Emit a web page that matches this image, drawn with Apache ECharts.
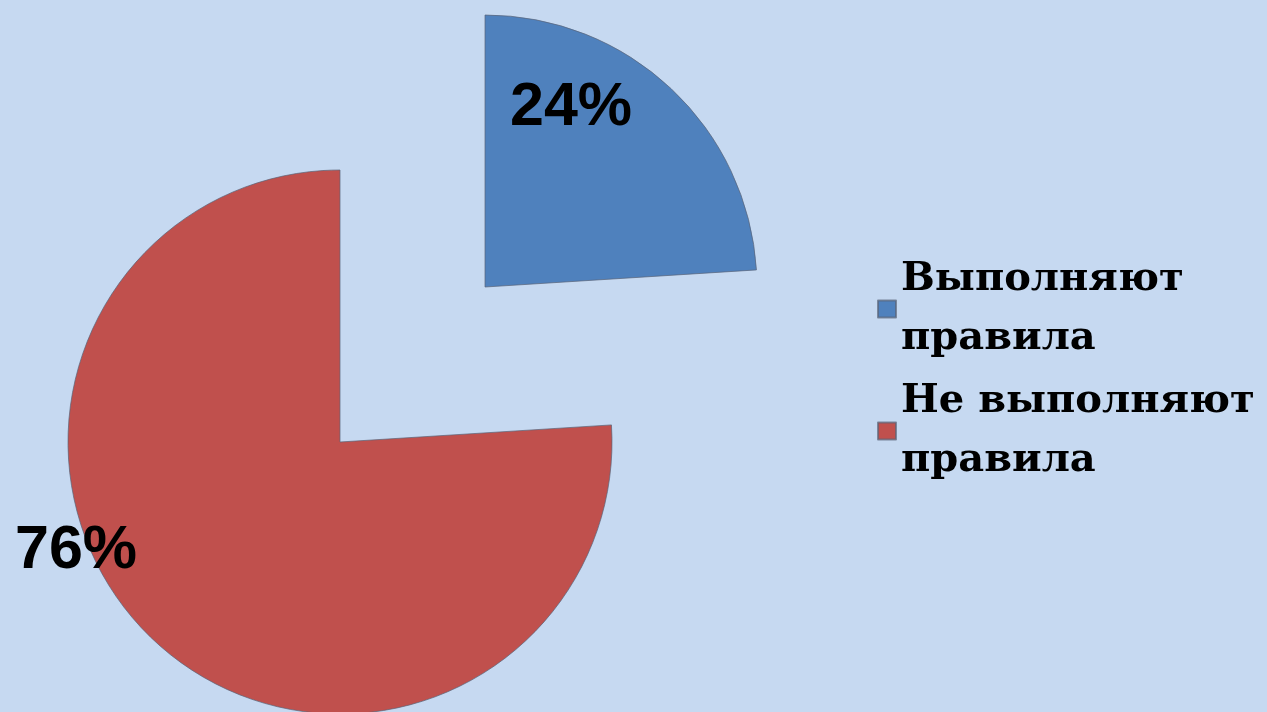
<!DOCTYPE html>
<html>
<head>
<meta charset="utf-8">
<script src="https://cdn.jsdelivr.net/npm/echarts@6/dist/echarts.min.js"></script>
<style>
html,body{margin:0;padding:0;background:#c6d9f1;}
#chart{width:1267px;height:712px;}
</style>
</head>
<body>
<div id="chart"></div>
<script>
const categories = ['Выполняют правила', 'Не выполняют правила'];
const values = [24, 76];
const colors = ['#4f81bd', '#c0504d'];

// slice centres (exploded pie) and label anchor points, in pixels
const centers = [[485, 287], [340, 442]];
const labelPos = [[571, 108], [76, 551]];

function sliceSeries(k) {
  return {
    type: 'pie',
    center: centers[k],
    radius: 272,
    startAngle: 90,
    clockwise: true,
    silent: true,
    avoidLabelOverlap: false,
    emphasis: { disabled: true },
    labelLine: { show: false },
    labelLayout: function (p) {
      return { x: labelPos[k][0], y: labelPos[k][1], align: 'center', verticalAlign: 'middle' };
    },
    data: categories.map(function (c, i) {
      if (i === k) {
        return {
          name: c, value: values[i],
          itemStyle: { color: colors[i], borderColor: 'rgba(90,100,120,0.7)', borderWidth: 1 },
          label: {
            show: true, position: 'inside', formatter: '{c}%',
            fontFamily: 'Liberation Sans', fontWeight: 'bold', fontSize: 61, color: '#000'
          }
        };
      }
      return {
        name: c + ' ', value: values[i],
        itemStyle: { color: 'rgba(0,0,0,0)', borderWidth: 0 },
        label: { show: false }
      };
    })
  };
}

const chart = echarts.init(document.getElementById('chart'));
chart.setOption({
  backgroundColor: '#c6d9f1',
  animation: false,
  legend: {
    orient: 'vertical',
    left: 877,
    top: 250,
    padding: 0,
    itemWidth: 18,
    itemHeight: 17,
    itemGap: 4,
    icon: 'rect',
    selectedMode: false,
    data: categories,
    formatter: function (name) { return name.replace(/ (правила)$/, '\n$1'); },
    textStyle: {
      fontFamily: 'DejaVu Serif',
      fontWeight: 'bold',
      fontSize: 40,
      lineHeight: 59,
      color: '#000'
    }
  },
  series: [sliceSeries(0), sliceSeries(1)]
});
</script>
</body>
</html>
